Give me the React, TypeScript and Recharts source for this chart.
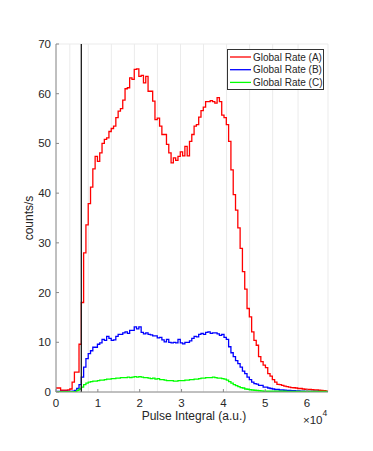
import React from 'react';
import { LineChart, Line, XAxis, YAxis, CartesianGrid, ReferenceLine } from 'recharts';

const BIN_WIDTH = 550;
const xTicks = [0, 10000, 20000, 30000, 40000, 50000, 60000];
const yTicks = [0, 10, 20, 30, 40, 50, 60, 70];
const thresholdX = 6050;

const rateA = [
  0.8, 0.8, 0.35, 0.35, 0.35, 0.4, 0.6, 2.0, 4.0, 4.0,
  9.6, 18.0, 28.0, 33.6, 37.9, 41.2, 44.9, 47.4, 46.4, 48.1,
  50.0, 50.8, 51.1, 52.4, 53.0, 53.5, 55.2, 56.5, 57.0, 58.7,
  61.0, 61.2, 63.2, 62.9, 64.9, 65.0, 63.5, 63.7, 62.2, 63.5,
  60.5, 60.5, 58.5, 54.8, 55.1, 53.5, 51.8, 51.8, 49.8, 48.1,
  46.1, 47.1, 46.6, 47.4, 48.3, 47.5, 49.4, 47.5, 50.4, 51.8,
  53.5, 53.8, 55.3, 56.6, 57.3, 58.4, 58.4, 58.6, 58.4, 58.1,
  59.2, 58.4, 55.7, 55.2, 53.8, 50.4, 44.7, 39.7, 36.6, 33.0,
  28.9, 24.2, 20.7, 16.8, 15.1, 12.1, 10.4, 9.4, 7.1, 6.1,
  5.4, 4.9, 3.7, 3.2, 2.5, 2.0, 1.55, 1.5, 1.35, 1.2,
  1.1, 1.0, 0.9, 0.85, 0.8, 0.7, 0.7, 0.6, 0.55, 0.5,
  0.5, 0.45, 0.4, 0.4, 0.35, 0.3, 0.25, 0.2,
];

const rateB = [
  0.1, 0.1, 0.1, 0.1, 0.1, 0.1, 0.1, 0.15, 0.3, 0.7,
  1.5, 3.0, 5.0, 6.7, 7.7, 8.3, 9.0, 9.0, 9.6, 9.9,
  10.6, 10.4, 11.2, 10.8, 10.4, 10.5, 11.2, 11.6, 11.6, 11.9,
  12.1, 11.8, 12.4, 12.4, 13.1, 12.7, 13.1, 12.0, 11.7, 11.9,
  11.6, 11.5, 11.3, 11.3, 10.9, 11.0, 10.5, 10.1, 10.6, 10.0,
  9.9, 10.0, 9.9, 10.6, 9.9, 9.7, 10.0, 10.0, 10.3, 10.8,
  11.2, 11.1, 11.6, 11.8, 11.6, 12.0, 12.1, 11.8, 11.9, 11.9,
  11.7, 11.4, 11.6, 11.0, 10.6, 9.1, 7.9, 7.1, 6.3, 5.7,
  5.0, 4.2, 3.7, 3.0, 2.5, 2.0, 1.7, 1.6, 1.35, 1.35,
  1.0, 1.0, 0.8, 0.7, 0.6, 0.5, 0.5, 0.4, 0.4, 0.35,
  0.3, 0.3, 0.25, 0.25, 0.2, 0.2, 0.15, 0.15, 0.1, 0.1,
  0.1, 0.1, 0.1, 0.1, 0.05, 0.05, 0.05, 0.05,
];

const rateC = [
  0.05, 0.05, 0.05, 0.05, 0.05, 0.05, 0.05, 0.05, 0.05, 0.3,
  0.6, 1.0, 1.5, 1.8, 2.0, 2.1, 2.2, 2.2, 2.3, 2.4,
  2.4, 2.5, 2.6, 2.6, 2.7, 2.7, 2.8, 2.8, 2.9, 2.9,
  2.9, 3.0, 2.9, 3.0, 3.1, 3.0, 3.1, 3.0, 2.9, 2.9,
  2.8, 2.7, 2.8, 2.6, 2.7, 2.5, 2.5, 2.4, 2.3, 2.3,
  2.3, 2.2, 2.2, 2.3, 2.3, 2.3, 2.4, 2.4, 2.5, 2.5,
  2.6, 2.6, 2.7, 2.8, 2.8, 2.9, 2.9, 2.9, 3.0, 2.9,
  2.8, 2.8, 2.7, 2.6, 2.4, 2.1, 1.8, 1.5, 1.3, 1.1,
  0.9, 0.8, 0.6, 0.55, 0.45, 0.4, 0.35, 0.3, 0.25, 0.2,
  0.15, 0.15, 0.15, 0.15, 0.15, 0.15, 0.15, 0.15, 0.15, 0.15,
  0.1, 0.1, 0.1, 0.1, 0.1, 0.1, 0.1, 0.1, 0.1, 0.1,
  0.1, 0.1, 0.1, 0.1, 0.1, 0.1, 0.1, 0.1,
];

const seriesNames = ['Global Rate (A)', 'Global Rate (B)', 'Global Rate (C)'];
const seriesColors = ['#ff0000', '#0000ff', '#00ff00'];

const nBins = rateA.length;
const data = Array.from({ length: nBins + 1 }, (_, i) => {
  const k = Math.min(i, nBins - 1);
  return { x: i * BIN_WIDTH, a: rateA[k], b: rateB[k], c: rateC[k] };
});

const FONT = '"Liberation Sans", Arial, Helvetica, sans-serif';
const TXT = '#262626';
const AXIS = '#8a8a8a';

const XTickBottom = (props: any) => {
  const { x, y, payload } = props;
  return (
    <g>
      <line x1={x} x2={x} y1={y} y2={y - 3} stroke={AXIS} />
      <text x={x} y={y + 15} textAnchor="middle" fontSize={11.5} fontFamily={FONT} fill={TXT}>
        {payload.value / 10000}
      </text>
    </g>
  );
};

const XTickTop = (props: any) => {
  const { x, y } = props;
  return <line x1={x} x2={x} y1={y} y2={y + 3} stroke={AXIS} />;
};

const YTickLeft = (props: any) => {
  const { x, y, payload } = props;
  return (
    <g>
      <line x1={x} x2={x + 3} y1={y} y2={y} stroke={AXIS} />
      <text x={x - 5} y={y + 4} textAnchor="end" fontSize={11.5} fontFamily={FONT} fill={TXT}>
        {payload.value}
      </text>
    </g>
  );
};

const YTickRight = (props: any) => {
  const { x, y } = props;
  return <line x1={x} x2={x - 3} y1={y} y2={y} stroke={AXIS} />;
};

const LegendBox = () => (
  <svg
    width={97}
    height={41}
    style={{ position: 'absolute', left: 227, top: 49, overflow: 'visible' }}
  >
    <rect x={0.5} y={0.5} width={96} height={40} fill="#fff" stroke="#333" strokeWidth={1} />
    {seriesNames.map((n, i) => (
      <g key={n}>
        <line x1={3} x2={24} y1={8 + i * 12.7} y2={8 + i * 12.7} stroke={seriesColors[i]} strokeWidth={1.3} />
        <text x={26} y={11.5 + i * 12.7} fontSize={10} fontFamily={FONT} fill={TXT}>
          {n}
        </text>
      </g>
    ))}
  </svg>
);

export default function App() {
  return (
    <div style={{ position: 'absolute', left: 0, top: 0, width: 373, height: 451, background: '#fff' }}>
      <LineChart
        width={373}
        height={451}
        data={data}
        margin={{ top: 44, right: 45, bottom: 29, left: 0 }}
      >
        <CartesianGrid stroke="#ebebeb" strokeWidth={1} />
        <XAxis
          xAxisId="bottom"
          dataKey="x"
          type="number"
          domain={[0, 65000]}
          ticks={xTicks}
          allowDataOverflow
          height={30}
          tickSize={0}
          tickMargin={0}
          tickLine={false}
          axisLine={{ stroke: AXIS }}
          tick={<XTickBottom />}
          interval={0}
          label={() => (
            <g>
              <text x={194} y={420} textAnchor="middle" fontSize={12} fontFamily={FONT} fill={TXT}>
                Pulse Integral (a.u.)
              </text>
              <text x={303} y={424} fontSize={11.5} fontFamily={FONT} fill={TXT}>
                ×10
                <tspan dy={-8} fontSize={8.5}>4</tspan>
              </text>
            </g>
          )}
        />
        <XAxis
          xAxisId="top"
          dataKey="x"
          type="number"
          orientation="top"
          domain={[0, 65000]}
          ticks={xTicks}
          allowDataOverflow
          height={0}
          tickSize={0}
          tickMargin={0}
          tickLine={false}
          axisLine={{ stroke: AXIS }}
          tick={<XTickTop />}
          interval={0}
        />
        <YAxis
          yAxisId="left"
          type="number"
          domain={[0, 70]}
          ticks={yTicks}
          allowDataOverflow
          width={56}
          tickSize={0}
          tickMargin={0}
          tickLine={false}
          axisLine={{ stroke: AXIS }}
          tick={<YTickLeft />}
          interval={0}
          label={() => (
            <text
              x={33}
              y={218}
              textAnchor="middle"
              fontSize={12}
              fontFamily={FONT}
              fill={TXT}
              transform="rotate(-90 33 218)"
            >
              counts/s
            </text>
          )}
        />
        <YAxis
          yAxisId="right"
          orientation="right"
          type="number"
          domain={[0, 70]}
          ticks={yTicks}
          allowDataOverflow
          width={0}
          tickSize={0}
          tickMargin={0}
          tickLine={false}
          axisLine={{ stroke: AXIS }}
          tick={<YTickRight />}
          interval={0}
        />
        <Line xAxisId="bottom" yAxisId="left" type="stepAfter" dataKey="a" name={seriesNames[0]} stroke={seriesColors[0]} strokeWidth={1.3} dot={false} isAnimationActive={false} />
        <Line xAxisId="bottom" yAxisId="left" type="stepAfter" dataKey="b" name={seriesNames[1]} stroke={seriesColors[1]} strokeWidth={1.3} dot={false} isAnimationActive={false} />
        <Line xAxisId="bottom" yAxisId="left" type="stepAfter" dataKey="c" name={seriesNames[2]} stroke={seriesColors[2]} strokeWidth={1.3} dot={false} isAnimationActive={false} />
        <ReferenceLine xAxisId="bottom" yAxisId="left" x={thresholdX} stroke="#1a1a1a" strokeWidth={1.3} ifOverflow="hidden" />
      </LineChart>
      <LegendBox />
    </div>
  );
}
